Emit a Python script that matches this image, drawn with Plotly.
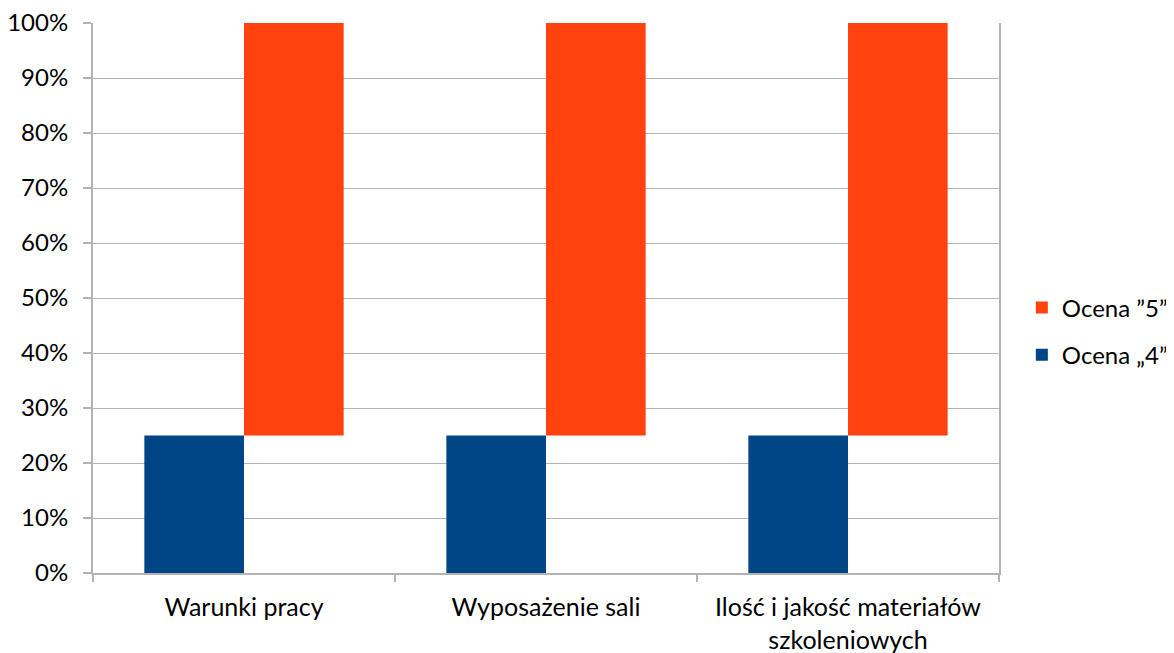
import plotly.graph_objects as go

categories = ["Warunki pracy", "Wyposażenie sali", "Ilość i jakość materiałów<br>szkoleniowych"]
ocena4 = [0.25, 0.25, 0.25]
ocena5 = [0.75, 0.75, 0.75]
tick_vals = [i / 10 for i in range(11)]
tick_text = [f"{i * 10}%" for i in range(11)]

FONT = "Lato"
GRID = "#b3b3b3"
FS = 25

fig = go.Figure()
fig.add_trace(go.Bar(name="Ocena „4”", x=categories, y=ocena4, marker_color="#004586",
                     marker_line_width=0, legendgroup="g4", legendrank=2))
fig.add_trace(go.Bar(name="Ocena ”5”", x=categories, y=ocena5, base=ocena4,
                     marker_color="#ff420e", marker_line_width=0, legendgroup="g5", legendrank=1))

# page body has an 8px margin, so the figure is sized/offset to compensate
fig.update_layout(
    width=1166, height=645,
    paper_bgcolor="white", plot_bgcolor="white",
    margin=dict(l=85, r=175, t=15, b=80, autoexpand=False),
    barmode="group", bargap=0.34, bargroupgap=0,
    font=dict(family=FONT, size=FS, color="#000000"),
    legend=dict(xref="container", yref="container", x=0.8695, y=0.4985,
                xanchor="left", yanchor="middle", traceorder="grouped",
                font=dict(size=24), tracegroupgap=13),
    showlegend=True,
)
fig.update_yaxes(range=[0, 1], tickvals=tick_vals, ticktext=tick_text, automargin=False,
                 tickfont=dict(size=24),
                 showgrid=True, gridcolor=GRID, gridwidth=1,
                 showline=True, linecolor=GRID, linewidth=2, mirror=True,
                 ticks="outside", ticklen=8, tickcolor=GRID, tickwidth=2,
                 ticklabelstandoff=10, ticklabeloverflow="allow", zeroline=False)
fig.update_xaxes(showgrid=False, showline=True, linecolor=GRID, linewidth=2, automargin=False,
                 ticks="outside", tickson="boundaries", ticklen=7, tickcolor=GRID, tickwidth=2,
                 ticklabelstandoff=11, ticklabeloverflow="allow")

fig.write_html("out.html")
